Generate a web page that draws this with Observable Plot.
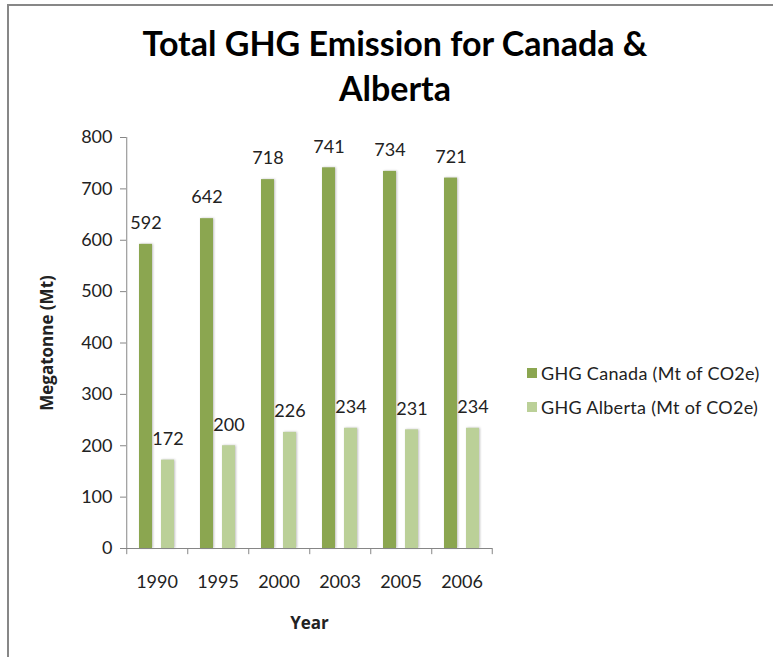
<!DOCTYPE html>
<html><head><meta charset="utf-8">
<script src="https://cdn.jsdelivr.net/npm/d3@7"></script>
<script src="https://cdn.jsdelivr.net/npm/@observablehq/plot@0.6"></script>
<style>
body{margin:0;background:#fff;font-family:Lato,sans-serif}
#wrap{position:relative;width:773px;height:657px;overflow:hidden;background:#fff}
#frame{position:absolute;left:7px;top:4px;width:900px;height:900px;border-top:2px solid #878787;border-left:2px solid #878787;box-sizing:border-box}
#title{position:absolute;left:0;top:20px;width:790px;text-align:center;font:bold 34px/45px Lato,sans-serif;color:#000}
#chart{position:absolute;left:0;top:0}
#legend{position:absolute;left:527px;top:356px;font:18px Lato,sans-serif;letter-spacing:0.3px;color:#222}
.item{display:flex;align-items:center;height:34px}
.sw{width:10px;height:10px;margin-right:4px}
g[aria-label="y-axis label"], g[aria-label="y-axis label"] text{font-family:"Open Sans",sans-serif !important;font-weight:bold !important;font-size:17px !important}
g[aria-label="fx-axis label"], g[aria-label="fx-axis label"] text{font-family:"Open Sans",sans-serif !important;font-weight:bold !important;font-size:17px !important}
g[aria-label="bar"] rect{filter:drop-shadow(1px 0px 1px rgba(0,0,0,0.25))}
</style></head>
<body>
<div id="wrap">
  <div id="frame"></div>
  <div id="title">Total GHG Emission for Canada &amp;<br>Alberta</div>
  <div id="chart"></div>
  <div id="legend"></div>
</div>
<script>
const years = ["1990", "1995", "2000", "2003", "2005", "2006"];
const seriesNames = ["GHG Canada (Mt of CO2e)", "GHG Alberta (Mt of CO2e)"];
const canada = [592, 642, 718, 741, 734, 721];
const alberta = [172, 200, 226, 234, 231, 234];
const yTicks = [0, 100, 200, 300, 400, 500, 600, 700, 800];
const seriesColors = ["#8BA650", "#BBD098"];

const rows = years.flatMap((yr, i) => [
  {year: yr, series: seriesNames[0], value: canada[i]},
  {year: yr, series: seriesNames[1], value: alberta[i]}
]);

const axisGray = "#868686";
const plot = Plot.plot({
  width: 773, height: 657,
  marginLeft: 126, marginRight: 281, marginTop: 137, marginBottom: 109,
  style: {fontFamily: "Lato, sans-serif", fontSize: "18px", color: "#222", background: "transparent"},
  fx: {domain: years, padding: 0},
  x: {domain: seriesNames, paddingInner: 0.4, paddingOuter: 0.556, axis: null},
  y: {domain: [0, 800]},
  color: {domain: seriesNames, range: seriesColors},
  marks: [
    Plot.barY(rows, {fx: "year", x: "series", y: "value", fill: "series"}),
    Plot.text(rows, {fx: "year", x: "series", y: "value", text: d => String(d.value), dy: -21, fill: "#222", fontSize: 18}),
    Plot.ruleY([0], {stroke: axisGray}),
    Plot.ruleX(years, {fx: d => d, x: () => seriesNames[0], y1: 0, y2: -12, dx: -19.25, stroke: axisGray}),
    Plot.ruleX([years[years.length - 1]], {fx: d => d, x: () => seriesNames[1], y1: 0, y2: -12, dx: 19.25, stroke: axisGray}),
    Plot.ruleX([years[0]], {fx: d => d, x: () => seriesNames[0], y1: 0, y2: 800, dx: -19.25, stroke: axisGray}),
    Plot.axisY({ticks: yTicks, tickSize: 6, tickPadding: 8, stroke: axisGray, fill: "#222", fontSize: 18,
      label: "Megatonne (Mt)", labelAnchor: "center", labelOffset: 86, labelArrow: "none"}),
    Plot.axisFx({anchor: "bottom", tickSize: 0, tickPadding: 27, fill: "#222", fontSize: 18,
      label: "Year", labelAnchor: "center", labelOffset: 80, labelArrow: "none"})
  ]
});
document.getElementById("chart").appendChild(plot);

const color = plot.scale("color");
const legend = document.getElementById("legend");
seriesNames.forEach(s => {
  const item = document.createElement("div");
  item.className = "item";
  const sw = document.createElement("span");
  sw.className = "sw";
  sw.style.background = color.apply(s);
  const t = document.createElement("span");
  t.textContent = s;
  item.appendChild(sw);
  item.appendChild(t);
  legend.appendChild(item);
});
</script>
</body></html>
